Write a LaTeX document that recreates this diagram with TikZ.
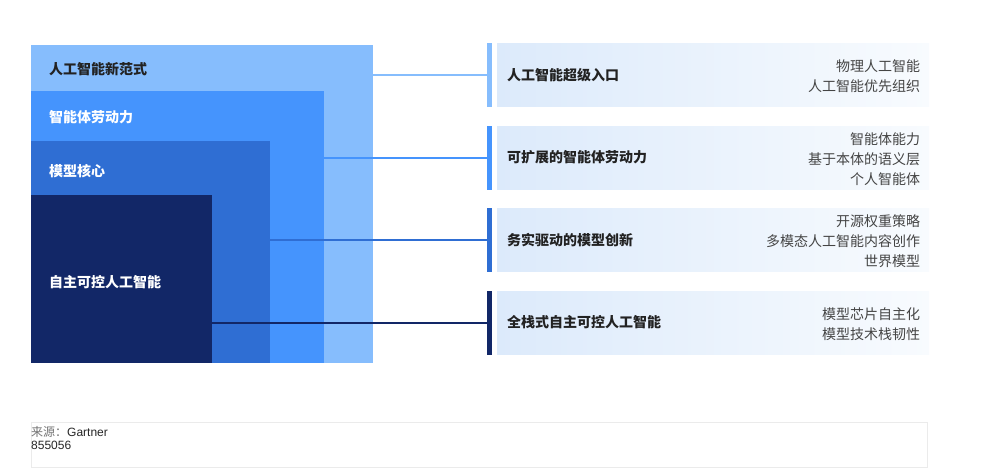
\documentclass[tikz,border=0pt]{standalone}
\usepackage{fontspec}
\setmainfont{Liberation Sans}
\newfontfamily\cjk{Noto Sans CJK SC}
\usetikzlibrary{calc}
\definecolor{lay1}{HTML}{86BDFD}
\definecolor{lay2}{HTML}{4594FD}
\definecolor{lay3}{HTML}{2F6ED3}
\definecolor{lay4}{HTML}{122767}
\definecolor{cardl}{HTML}{DCEAFB}
\definecolor{cardr}{HTML}{F8FBFE}
\definecolor{ink}{HTML}{222222}
\definecolor{soft}{HTML}{444444}

\begin{document}
\begin{tikzpicture}[x=1pt,y=-1pt,
  layer/.style={rectangle,inner sep=0pt,anchor=north west},
  layer label/.style={anchor=west,inner sep=0pt,font=\cjk\bfseries\fontsize{14}{20}\selectfont,text=white},
  bar/.style={rectangle,inner sep=0pt,minimum width=5pt,minimum height=64pt},
  card/.style={rectangle,inner sep=0pt,anchor=west,minimum width=432pt,minimum height=63pt,left color=cardl,right color=cardr},
  card title/.style={anchor=west,inner sep=0pt,font=\cjk\bfseries\fontsize{14}{20}\selectfont,text=ink},
  card items/.style={anchor=east,inner sep=0pt,align=right,font=\cjk\fontsize{14}{20}\selectfont,text=soft},
  link/.style={line width=2pt}]

				\useasboundingbox (0,0) rectangle (1000,471);

				% nested layers
				\node[layer,fill=lay1,minimum width=342pt,minimum height=318pt] (L1) at (31,45) {};
				\node[layer,fill=lay2,minimum width=293pt,minimum height=272pt] (L2) at (31,91) {};
				\node[layer,fill=lay3,minimum width=239pt,minimum height=222pt] (L3) at (31,141) {};
				\node[layer,fill=lay4,minimum width=181pt,minimum height=168pt] (L4) at (31,195) {};

				\node[layer label,text=ink] (T1) at (49,69) {人工智能新范式};
				\node[layer label] (T2) at (49,117) {智能体劳动力};
				\node[layer label] (T3) at (49,171) {模型核心};
				\node[layer label] (T4) at (49,282) {自主可控人工智能};

				% bars and cards
				\node[bar,fill=lay1] (B1) at (489.5,75) {};
				\node[bar,fill=lay2] (B2) at (489.5,157.5) {};
				\node[bar,fill=lay3] (B3) at (489.5,240) {};
				\node[bar,fill=lay4] (B4) at (489.5,322.5) {};

				\node[card] (C1) at (497,75) {};
				\node[card] (C2) at (497,157.5) {};
				\node[card] (C3) at (497,240) {};
				\node[card] (C4) at (497,322.5) {};

				\node[card title] (H1) at ([xshift=10pt]C1.west) {人工智能超级入口};
				\node[card title] (H2) at ([xshift=10pt]C2.west) {可扩展的智能体劳动力};
				\node[card title] (H3) at ([xshift=10pt]C3.west) {务实驱动的模型创新};
				\node[card title] (H4) at ([xshift=10pt]C4.west) {全栈式自主可控人工智能};

				\node[card items] (I1) at ([xshift=-9pt,yshift=-1.5pt]C1.east) {物理人工智能\\人工智能优先组织};
				\node[card items] (I2) at ([xshift=-9pt,yshift=-1.5pt]C2.east) {智能体能力\\基于本体的语义层\\个人智能体};
				\node[card items] (I3) at ([xshift=-9pt,yshift=-1.5pt]C3.east) {开源权重策略\\多模态人工智能内容创作\\世界模型};
				\node[card items] (I4) at ([xshift=-9pt,yshift=-1.5pt]C4.east) {模型芯片自主化\\模型技术栈韧性};

				% links
				\draw[link,lay1] (L1.east |- B1) -- (B1.west);
				\draw[link,lay2] (L2.east |- B2) -- (B2.west);
				\draw[link,lay3] (L3.east |- B3) -- (B3.west);
				\draw[link,lay4] (L4.east |- B4) -- (B4.west);

				% source box
				\node[layer,draw=black!8,line width=0.8pt,fill=white,minimum width=896pt,minimum height=45pt] (S) at (31,422) {};
				\node[anchor=north west,inner sep=0pt,align=left,font=\fontsize{12}{13}\selectfont,text=black!85] (Src) at ([yshift=-4pt]S.north west) {{\cjk\color{black!55}来源：}Gartner\\855056};

\end{tikzpicture}
\end{document}
